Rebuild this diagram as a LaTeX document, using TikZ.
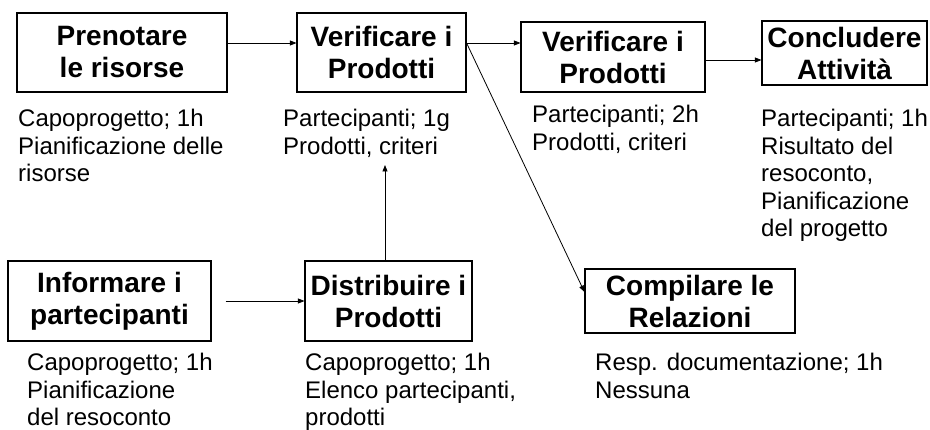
\documentclass[tikz,border=0pt]{standalone}
\usepackage{fontspec}
\setmainfont{Liberation Sans}
\usetikzlibrary{arrows.meta}

\begin{document}
\begin{tikzpicture}[x=1pt,y=-1pt,
  task/.style={draw,line width=1.1pt,inner sep=0,align=center,
    font=\fontsize{28}{32}\selectfont\bfseries},
  note/.style={anchor=north west,inner sep=0,align=left,
    font=\fontsize{24}{27.5}\selectfont},
  flow/.style={line width=0.8pt,-{Triangle[length=6.5pt,width=5pt]}}]
\useasboundingbox (0,0) rectangle (930,430);
% attivita in alto
\node[task,minimum width=210,minimum height=79] (prenota) at (122,52.5) {Prenotare\\le risorse};
\node[task,minimum width=169,minimum height=79] (verifica) at (381.5,52.5) {Verificare i\\Prodotti};
\node[task,minimum width=184,minimum height=70] (verifica2) at (613,57) {Verificare i\\Prodotti};
\node[task,minimum width=165,minimum height=64] (conclude) at (844.5,53) {Concludere\\Attività};
% attivita in basso
\node[task,minimum width=203,minimum height=80] (informa) at (109.5,301) {Informare i\\partecipanti};
\node[task,minimum width=167,minimum height=80] (distribuisce) at (388.5,301) {Distribuire i\\Prodotti};
\node[task,minimum width=210,minimum height=64] (compila) at (690,301) {Compilare le\\Relazioni};
% ruolo, durata, ingressi
\node[note] (nprenota) at (18,109) {Capoprogetto; 1h\\Pianificazione delle\\risorse};
\node[note] (nverifica) at (283,109) {Partecipanti; 1g\\Prodotti, criteri};
\node[note] (nverifica2) at (532,105) {Partecipanti; 2h\\Prodotti, criteri};
\node[note] (nconclude) at (761,109) {Partecipanti; 1h\\Risultato del\\resoconto,\\Pianificazione\\del progetto};
\node[note] (ninforma) at (27,353) {Capoprogetto; 1h\\Pianificazione\\del resoconto};
\node[note] (ndistribuisce) at (305,353) {Capoprogetto; 1h\\Elenco partecipanti,\\prodotti};
\node[note] (ncompila) at (595,353) {Resp. documentazione; 1h\\Nessuna};
\coordinate (sopra) at (385,165);
% flusso
\draw[flow] ([yshift=9.5pt]prenota.east) -- ([yshift=9.5pt]verifica.west);
\draw[flow] ([yshift=9.5pt]verifica.east) -- ([yshift=14pt]verifica2.west);
\draw[flow] ([yshift=-3pt]verifica2.east) -- ([yshift=-7pt]conclude.west);
\draw[flow] ([yshift=9.5pt]verifica.east) -- ([yshift=9pt]compila.west);
\draw[flow,shorten <=14pt] (informa) -- (distribuisce);
\draw[flow] ([xshift=-3.5pt]distribuisce.north) -- (sopra);
\end{tikzpicture}
\end{document}
